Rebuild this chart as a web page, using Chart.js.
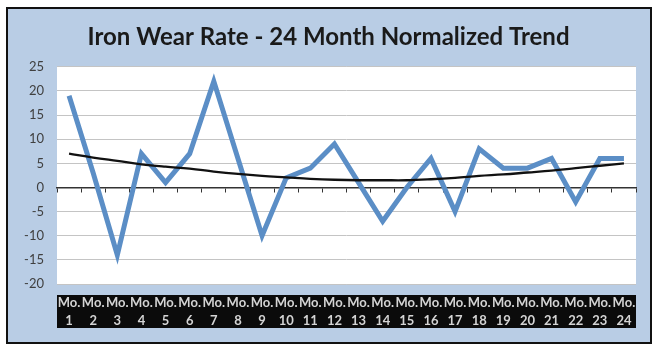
<!DOCTYPE html>
<html>
<head>
<meta charset="utf-8">
<script src="https://cdn.jsdelivr.net/npm/chart.js@4/dist/chart.umd.min.js"></script>
<style>
  html, body { margin: 0; padding: 0; background: #fff; }
  #wrap { width: 657px; height: 351px; }
</style>
</head>
<body>
<div id="wrap"><canvas id="wearChart" width="657" height="351"></canvas></div>
<script>
// values
const monthLabels = [
    ['Mo.', '1'], ['Mo.', '2'], ['Mo.', '3'], ['Mo.', '4'], ['Mo.', '5'], ['Mo.', '6'],
    ['Mo.', '7'], ['Mo.', '8'], ['Mo.', '9'], ['Mo.', '10'], ['Mo.', '11'], ['Mo.', '12'],
    ['Mo.', '13'], ['Mo.', '14'], ['Mo.', '15'], ['Mo.', '16'], ['Mo.', '17'], ['Mo.', '18'],
    ['Mo.', '19'], ['Mo.', '20'], ['Mo.', '21'], ['Mo.', '22'], ['Mo.', '23'], ['Mo.', '24']
];
const wearRate = [19, 3, -14, 7, 1, 7, 22, 6, -10, 2, 4, 9, 1, -7, 0, 6, -5, 8, 4, 4, 6, -3, 6, 6];
const trendValues = [7.0, 6.2, 5.5, 4.8, 4.3, 3.9, 3.3, 2.8, 2.4, 2.1, 1.8, 1.6,
                     1.5, 1.5, 1.5, 1.7, 2.0, 2.4, 2.7, 3.1, 3.5, 4.0, 4.5, 5.0];
const yMin = -20;
const yMax = 25;
const yStep = 5;

// panel background, frame, white plot area and black label band
const backdrop = {
    id: 'backdrop',
    beforeDraw(chart) {
        const ctx = chart.ctx;
        const a = chart.chartArea;
        ctx.save();
        ctx.fillStyle = '#ffffff';
        ctx.fillRect(0, 0, chart.width, chart.height);
        ctx.fillStyle = '#b9cde5';
        ctx.fillRect(7, 8, 644, 335);
        ctx.strokeStyle = '#111111';
        ctx.lineWidth = 2;
        ctx.strokeRect(7, 8, 644, 335);
        ctx.fillStyle = '#ffffff';
        ctx.fillRect(a.left, a.top, a.width, a.height);
        ctx.fillStyle = '#0b0b0b';
        ctx.fillRect(a.left, a.bottom + 11, a.width, 33);
        ctx.restore();
    }
};

let wearCanvas = document.getElementById('wearChart').getContext('2d');
let wearChart = new Chart(wearCanvas, {
    type: 'line',
    data: {
        labels: monthLabels,
        datasets: [{
            label: 'Trend',
            data: trendValues,
            borderColor: '#111111',
            borderWidth: 2.3,
            pointRadius: 0,
            tension: 0.4,
            order: 0
        }, {
            label: 'Iron Wear Rate',
            data: wearRate,
            borderColor: '#5b8ec6',
            borderWidth: 5,
            pointRadius: 0,
            tension: 0,
            borderJoinStyle: 'miter',
            order: 1
        }]
    },
    options: {
        responsive: false,
        animation: false,
        layout: { padding: { left: 14, right: 14, top: 0, bottom: 0 } },
        plugins: {
            legend: { display: false },
            tooltip: { enabled: false },
            title: {
                display: true,
                text: 'Iron Wear Rate - 24 Month Normalized Trend',
                color: '#1a1a1a',
                font: { family: 'Lato', size: 24, weight: 'bold' },
                padding: { top: 23, bottom: 15 }
            }
        },
        scales: {
            x: {
                type: 'category',
                position: { y: 0 },
                offset: true,
                grid: { display: true, drawOnChartArea: false, drawTicks: true, tickLength: 4, color: '#333333', offset: true },
                border: { display: true, color: '#333333', width: 1.5 },
                ticks: { display: false }
            },
            x2: {
                type: 'category',
                labels: monthLabels,
                position: 'bottom',
                offset: true,
                grid: { display: false },
                border: { display: false },
                ticks: {
                    color: '#d4d4d4',
                    font: { family: 'Lato', size: 13, weight: 'bold', lineHeight: 1.4 },
                    padding: 2,
                    maxRotation: 0,
                    autoSkip: false
                },
                afterFit(scale) { scale.height = 67; }
            },
            y: {
                min: yMin,
                max: yMax,
                grid: { color: '#c4c4c4', drawTicks: false },
                border: { display: false },
                ticks: {
                    stepSize: yStep,
                    color: '#404040',
                    padding: 13,
                    font: { family: 'Lato', size: 13 }
                },
                afterFit(scale) { scale.width = 43; }
            },
            // empty right strip so the title centres on the whole panel
            yRight: {
                position: 'right',
                display: true,
                min: yMin,
                max: yMax,
                grid: { display: false },
                border: { display: false },
                ticks: { display: false },
                afterFit(scale) { scale.width = 7; }
            }
        }
    },
    plugins: [backdrop]
});
</script>
</body>
</html>
